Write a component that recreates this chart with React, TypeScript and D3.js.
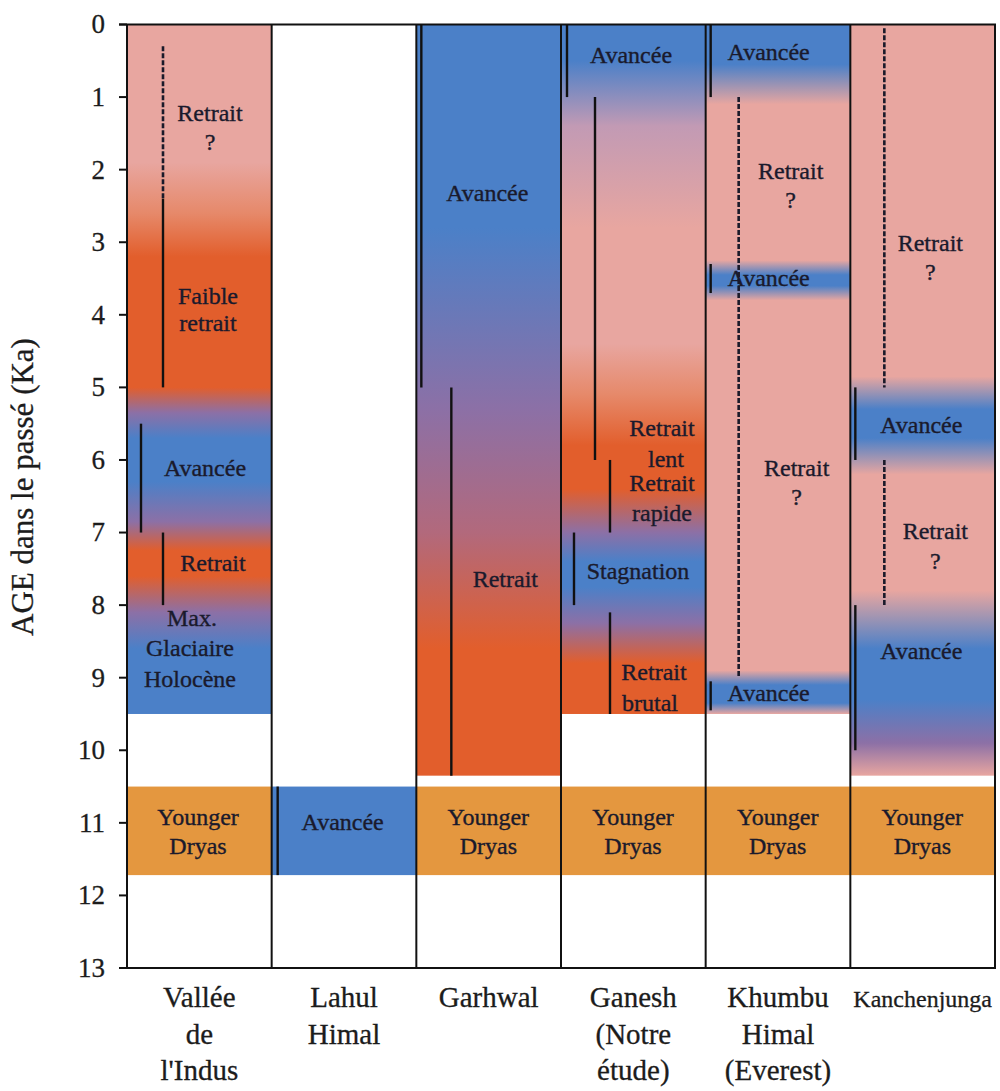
import React from "react";
import * as d3 from "d3";

const regions = ["Vallée de l'Indus", "Lahul Himal", "Garhwal", "Ganesh", "Khumbu", "Kanchenjunga"];
const regionLabels: string[][] = [
  ["Vallée", "de", "l'Indus"],
  ["Lahul", "Himal"],
  ["Garhwal"],
  ["Ganesh", "(Notre", "étude)"],
  ["Khumbu", "Himal", "(Everest)"],
  ["Kanchenjunga"],
];
const ageTicks = [0, 1, 2, 3, 4, 5, 6, 7, 8, 9, 10, 11, 12, 13];

// End of the Holocene record per column (Ka), null = no record
const recordEnd: (number | null)[] = [9.5, null, 10.35, 9.5, 9.5, 10.35];

// Colour stops along age for each column: [age, state]
const stopsIndus: [number, string][] = [[0, "retreat"], [1.9, "retreat"], [2.6, "salmon"], [3.2, "strong"], [5.0, "strong"], [5.35, "mixed"], [5.7, "advance"], [6.3, "advance"], [6.85, "mixed"], [7.25, "strong"], [7.6, "strong"], [8.1, "mixed"], [8.6, "advance"], [9.5, "advance"]];
const stopsLahul: [number, string][] = [];
const stopsGarhwal: [number, string][] = [[0, "advance"], [2.8, "advance"], [5.3, "mixed"], [7.0, "mixedWarm"], [8.6, "strong"], [10.35, "strong"]];
const stopsGanesh: [number, string][] = [[0, "advance"], [0.5, "advance"], [1.4, "mauve"], [2.8, "retreat"], [4.4, "retreat"], [5.1, "salmon"], [5.8, "strong"], [6.4, "strong"], [7.0, "mixed"], [7.4, "advance"], [7.75, "advance"], [8.25, "mixed"], [8.8, "strong"], [9.5, "strong"]];
const stopsKhumbu: [number, string][] = [[0, "advance"], [0.55, "advance"], [1.1, "retreat"], [3.25, "retreat"], [3.45, "advance"], [3.6, "advance"], [3.8, "retreat"], [8.9, "retreat"], [9.1, "advance"], [9.35, "advance"], [9.5, "retreat"]];
const stopsKanch: [number, string][] = [[0, "retreat"], [4.85, "retreat"], [5.3, "advance"], [5.7, "advance"], [6.2, "retreat"], [7.8, "retreat"], [8.6, "advance"], [9.3, "advance"], [9.9, "mixed"], [10.35, "retreat"]];
const columnStops = [stopsIndus, stopsLahul, stopsGarhwal, stopsGanesh, stopsKhumbu, stopsKanch];

// Younger Dryas band (Ka) and the state shown per column
const youngerDryas = [10.5, 11.72];
const ydState = ["yd", "advance", "yd", "yd", "yd", "yd"];

// Bracket lines: [column, fromAge, toAge, track, dashed]
const brackets: [number, number, number, number, boolean][] = [
  [0, 0.3, 2.4, 36, true], [0, 2.4, 5.0, 36, false], [0, 5.5, 7.0, 14, false], [0, 7.0, 8.0, 36, false],
  [1, 10.5, 11.72, 6, false],
  [2, 0, 5.0, 5, false], [2, 5.0, 10.35, 35, false],
  [3, 0, 1.0, 6, false], [3, 1.0, 6.0, 34, false], [3, 6.0, 7.0, 49, false], [3, 7.0, 8.0, 13, false], [3, 8.1, 9.5, 49, false],
  [4, 0, 1.0, 5, false], [4, 1.0, 9.0, 33, true], [4, 3.3, 3.7, 5, false], [4, 9.05, 9.45, 5, false],
  [5, 0.05, 5.0, 34, true], [5, 5.0, 6.0, 5, false], [5, 6.0, 8.0, 34, true], [5, 8.0, 10.0, 5, false],
];

// Annotations: [column, age, text, xCentre within column]
const notes: [number, number, string, number][] = [
  [0, 1.22, "Retrait", 83], [0, 1.61, "?", 83], [0, 3.73, "Faible", 81], [0, 4.11, "retrait", 81],
  [0, 6.1, "Avancée", 78], [0, 7.41, "Retrait", 86], [0, 8.17, "Max.", 65], [0, 8.59, "Glaciaire", 63], [0, 9.01, "Holocène", 63],
  [0, 10.92, "Younger", 71], [0, 11.31, "Dryas", 71],
  [1, 10.98, "Avancée", 71],
  [2, 2.31, "Avancée", 71], [2, 7.63, "Retrait", 89], [2, 10.92, "Younger", 72], [2, 11.31, "Dryas", 72],
  [3, 0.42, "Avancée", 70], [3, 5.56, "Retrait", 101], [3, 5.98, "lent", 105], [3, 6.31, "Retrait", 101], [3, 6.73, "rapide", 101],
  [3, 7.52, "Stagnation", 77], [3, 8.92, "Retrait", 93], [3, 9.35, "brutal", 89], [3, 10.92, "Younger", 72], [3, 11.31, "Dryas", 72],
  [4, 0.38, "Avancée", 63], [4, 2.01, "Retrait", 85], [4, 2.41, "?", 85], [4, 3.49, "Avancée", 63], [4, 6.11, "Retrait", 91], [4, 6.51, "?", 91],
  [4, 9.2, "Avancée", 63], [4, 10.92, "Younger", 72], [4, 11.31, "Dryas", 72],
  [5, 3.01, "Retrait", 80], [5, 3.41, "?", 80], [5, 5.51, "Avancée", 71], [5, 6.97, "Retrait", 85], [5, 7.38, "?", 85],
  [5, 8.62, "Avancée", 71], [5, 10.92, "Younger", 72], [5, 11.31, "Dryas", 72],
];

const palette: Record<string, string> = {
  retreat: "#E8A6A0",
  salmon: "#E6896A",
  mauve: "#C29AB4",
  strong: "#E25E2C",
  advance: "#4B80C8",
  mixed: "#8C70A6",
  mixedWarm: "#B2697C",
  yd: "#E4973F",
};

const W = 1000;
const H = 1091;
const serif = "'Liberation Serif', 'Times New Roman', Times, serif";

export default function App() {
  const y = d3.scaleLinear().domain([0, 13]).range([24.5, 968]);
  const x = d3.scaleBand<string>().domain(regions).range([127, 995]).padding(0);
  const bw = x.bandwidth();
  const ink = "#1a1a2c";

  return (
    <svg width={W} height={H} style={{ display: "block", position: "absolute", left: 0, top: 0 }}>
      <defs>
        {columnStops.map((stops, i) => {
          const end = recordEnd[i];
          if (end == null) return null;
          return (
            <linearGradient key={i} id={`g${i}`} gradientUnits="userSpaceOnUse" x1={0} x2={0} y1={y(0)} y2={y(end)}>
              {stops.map(([a, s], j) => (
                <stop key={j} offset={a / end} stopColor={palette[s]} />
              ))}
            </linearGradient>
          );
        })}
      </defs>
      <rect width={W} height={H} fill="#fff" />
      {regions.map((r, i) => {
        const end = recordEnd[i];
        const x0 = x(r)!;
        return (
          <g key={r}>
            {end != null && (
              <rect x={x0} y={y(0)} width={bw} height={y(end) - y(0)} fill={`url(#g${i})`} />
            )}
            <rect x={x0} y={y(youngerDryas[0])} width={bw} height={y(youngerDryas[1]) - y(youngerDryas[0])} fill={palette[ydState[i]]} />
          </g>
        );
      })}
      {brackets.map(([c, a0, a1, off, dashed], i) => {
        const xx = x(regions[c])! + off;
        return (
          <line key={i} x1={xx} x2={xx} y1={y(a0)} y2={y(a1)} stroke={dashed ? "#1a1a2a" : "#111"} strokeWidth={dashed ? 2.6 : 2.4} strokeDasharray={dashed ? "5 2" : undefined} />
        );
      })}
      {notes.map(([c, a, t, cx], i) => (
        <text key={i} x={x(regions[c])! + cx} y={y(a)} dy="0.35em" textAnchor="middle" fontFamily={serif} fontSize={24} fill={ink} stroke={ink} strokeWidth={0.35}>
          {t}
        </text>
      ))}
      {/* frame */}
      {regions.map((r) => (
        <line key={r} x1={x(r)!} x2={x(r)!} y1={y(0)} y2={y(13)} stroke="#111" strokeWidth={2} />
      ))}
      <line x1={995} x2={995} y1={y(0)} y2={y(13)} stroke="#111" strokeWidth={2} />
      <line x1={119} x2={996} y1={y(0)} y2={y(0)} stroke="#111" strokeWidth={2} />
      <line x1={119} x2={996} y1={y(13)} y2={y(13)} stroke="#111" strokeWidth={2} />
      {ageTicks.map((t) => (
        <g key={t}>
          <line x1={119} x2={127} y1={y(t)} y2={y(t)} stroke="#111" strokeWidth={2} />
          <text x={105} y={y(t)} dy="0.33em" textAnchor="end" fontFamily={serif} fontSize={27} fill="#1c1c1c" stroke="#1c1c1c" strokeWidth={0.3}>
            {t}
          </text>
        </g>
      ))}
      <text transform={`translate(22,487) rotate(-90)`} textAnchor="middle" dy="0.35em" fontFamily={serif} fontSize={31} fill="#1c1c1c" stroke="#1c1c1c" strokeWidth={0.3}>
        AGE dans le passé (Ka)
      </text>
      {regions.map((r, i) =>
        regionLabels[i].map((l, j) => (
          <text key={r + j} x={x(r)! + bw / 2} y={i === 5 ? 999 : 997 + j * 36.5} dy="0.35em" textAnchor="middle" fontFamily={serif} fontSize={i === 5 ? 24 : 29} fill="#1c1c1c" stroke="#1c1c1c" strokeWidth={0.3}>
            {l}
          </text>
        ))
      )}
    </svg>
  );
}
